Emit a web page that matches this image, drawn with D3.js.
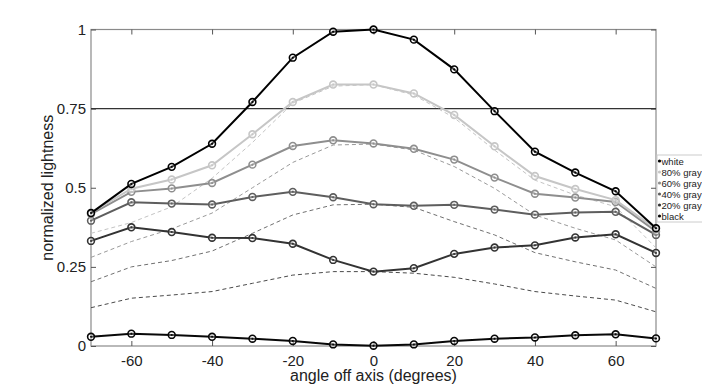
<!DOCTYPE html>
<html>
<head>
<meta charset="utf-8">
<script src="https://cdn.jsdelivr.net/npm/d3@7"></script>
<style>
  body { margin: 0; background: #fff; }
  svg { font-family: "Liberation Sans", Arial, sans-serif; }
</style>
</head>
<body>
<div id="chart"></div>
<script>
// angles measured, every 10 degrees
const angles = [-70, -60, -50, -40, -30, -20, -10, 0, 10, 20, 30, 40, 50, 60, 70];

// measured lightness for each test patch
const white   = [0.420, 0.512, 0.566, 0.639, 0.771, 0.911, 0.993, 1.000, 0.968, 0.874, 0.742, 0.614, 0.548, 0.489, 0.372];
const gray80  = [0.421, 0.497, 0.526, 0.571, 0.669, 0.771, 0.826, 0.826, 0.798, 0.730, 0.631, 0.537, 0.496, 0.461, 0.370];
const gray60  = [0.417, 0.487, 0.498, 0.515, 0.573, 0.632, 0.650, 0.640, 0.623, 0.589, 0.532, 0.481, 0.469, 0.455, 0.362];
const gray40  = [0.396, 0.454, 0.450, 0.447, 0.471, 0.487, 0.470, 0.448, 0.443, 0.446, 0.431, 0.415, 0.422, 0.424, 0.351];
const gray20  = [0.332, 0.375, 0.360, 0.342, 0.341, 0.323, 0.272, 0.235, 0.246, 0.291, 0.311, 0.318, 0.343, 0.353, 0.294];
const black   = [0.029, 0.039, 0.035, 0.029, 0.023, 0.016, 0.005, 0.001, 0.005, 0.016, 0.023, 0.027, 0.034, 0.037, 0.024];

// expected (dashed) curves
const exp80 = [0.356, 0.390, 0.440, 0.530, 0.643, 0.767, 0.821, 0.826, 0.793, 0.721, 0.619, 0.524, 0.477, 0.440, 0.310];
const exp60 = [0.280, 0.330, 0.370, 0.420, 0.500, 0.580, 0.635, 0.638, 0.619, 0.567, 0.498, 0.414, 0.372, 0.335, 0.250];
const exp40 = [0.203, 0.250, 0.270, 0.300, 0.356, 0.414, 0.446, 0.448, 0.438, 0.393, 0.351, 0.295, 0.266, 0.240, 0.182];
const exp20 = [0.121, 0.151, 0.161, 0.172, 0.198, 0.224, 0.235, 0.235, 0.230, 0.217, 0.196, 0.172, 0.158, 0.145, 0.108];

const seriesNames = ["white", "80% gray", "60% gray", "40% gray", "20% gray", "black"];
const seriesValues = [white, gray80, gray60, gray40, gray20, black];
const seriesColors = ["#000000", "#c6c6c6", "#8e8e8e", "#5e5e5e", "#333333", "#080808"];

const expValues = [exp80, exp60, exp40, exp20];
const expColors = ["#c4c4c4", "#9a9a9a", "#707070", "#4a4a4a"];

const xTicks = [-60, -40, -20, 0, 20, 40, 60];
const yTicks = [0, 0.25, 0.5, 0.75, 1];

const W = 702, H = 390;
const svg = d3.select("#chart").append("svg").attr("width", W).attr("height", H);

const x = d3.scaleLinear().domain([-70, 70]).range([91, 656]);
const y = d3.scaleLinear().domain([0, 1]).range([346, 29.5]);

// frame
svg.append("rect")
    .attr("x", x(-70)).attr("y", y(1))
    .attr("width", x(70) - x(-70)).attr("height", y(0) - y(1))
    .attr("fill", "none").attr("stroke", "#8a8a8a").attr("stroke-width", 1.2);

// axes, ticks pointing inward
const xAxis = svg.append("g").attr("transform", `translate(0,${y(0)})`)
    .call(d3.axisBottom(x).tickValues(xTicks).tickSizeInner(-5).tickSizeOuter(0).tickPadding(9).tickFormat(d => String(d)));
const xAxisTop = svg.append("g").attr("transform", `translate(0,${y(1)})`)
    .call(d3.axisTop(x).tickValues(xTicks).tickSizeInner(-5).tickSizeOuter(0).tickFormat(""));
const yAxis = svg.append("g").attr("transform", `translate(${x(-70)},0)`)
    .call(d3.axisLeft(y).tickValues(yTicks).tickSizeInner(-5).tickSizeOuter(0).tickPadding(5).tickFormat(d => String(d)));
const yAxisRight = svg.append("g").attr("transform", `translate(${x(70)},0)`)
    .call(d3.axisRight(y).tickValues(yTicks).tickSizeInner(-5).tickSizeOuter(0).tickFormat(""));

[xAxis, xAxisTop, yAxis, yAxisRight].forEach(g => {
    g.select(".domain").remove();
    g.selectAll(".tick line").attr("stroke", "#555");
    g.selectAll("text").attr("fill", "#222").style("font-size", "15px");
});

// 0.75 reference line
svg.append("line")
    .attr("x1", x(-70)).attr("x2", x(70))
    .attr("y1", y(0.75)).attr("y2", y(0.75))
    .attr("stroke", "#333").attr("stroke-width", 1.4);

const line = d3.line().x((d, i) => x(angles[i])).y(d => y(d));

// dashed expected curves
expValues.forEach((vals, k) => {
    svg.append("path")
        .datum(vals)
        .attr("d", line)
        .attr("fill", "none")
        .attr("stroke", expColors[k])
        .attr("stroke-width", 1)
        .attr("stroke-dasharray", "4,3");
});

// measured curves, white on top
for (let k = seriesValues.length - 1; k >= 0; k--) {
    const vals = seriesValues[k];
    const col = seriesColors[k];
    svg.append("path")
        .datum(vals)
        .attr("d", line)
        .attr("fill", "none")
        .attr("stroke", col)
        .attr("stroke-width", 2);
    const g = svg.append("g");
    g.selectAll("circle.m").data(vals).join("circle")
        .attr("class", "m")
        .attr("cx", (d, i) => x(angles[i]))
        .attr("cy", d => y(d))
        .attr("r", 3.4)
        .attr("fill", "#fff")
        .attr("fill-opacity", 0.3)
        .attr("stroke", col)
        .attr("stroke-width", 1.6);
    g.selectAll("circle.c").data(vals).join("circle")
        .attr("class", "c")
        .attr("cx", (d, i) => x(angles[i]))
        .attr("cy", d => y(d))
        .attr("r", 1)
        .attr("fill", col);
}

// axis titles
svg.append("text")
    .attr("x", (x(-70) + x(70)) / 2).attr("y", 381)
    .attr("text-anchor", "middle")
    .attr("fill", "#222")
    .style("font-size", "16px")
    .text("angle off axis (degrees)");
svg.append("text")
    .attr("transform", `translate(53,${(y(0) + y(1)) / 2}) rotate(-90)`)
    .attr("text-anchor", "middle")
    .attr("fill", "#222")
    .style("font-size", "16px")
    .text("normalized lightness");

// legend
const lg = svg.append("g");
lg.append("rect")
    .attr("x", 657).attr("y", 155).attr("width", 50).attr("height", 67)
    .attr("fill", "#fff").attr("stroke", "#ccc").attr("stroke-width", 1);
seriesNames.forEach((name, k) => {
    const cy = 161 + k * 11;
    lg.append("circle").attr("cx", 659.5).attr("cy", cy).attr("r", 1.6).attr("fill", seriesColors[k]);
    lg.append("text")
        .attr("x", 661.5).attr("y", cy + 3.5)
        .attr("fill", "#222")
        .style("font-size", "9.5px")
        .text(name);
});
</script>
</body>
</html>
